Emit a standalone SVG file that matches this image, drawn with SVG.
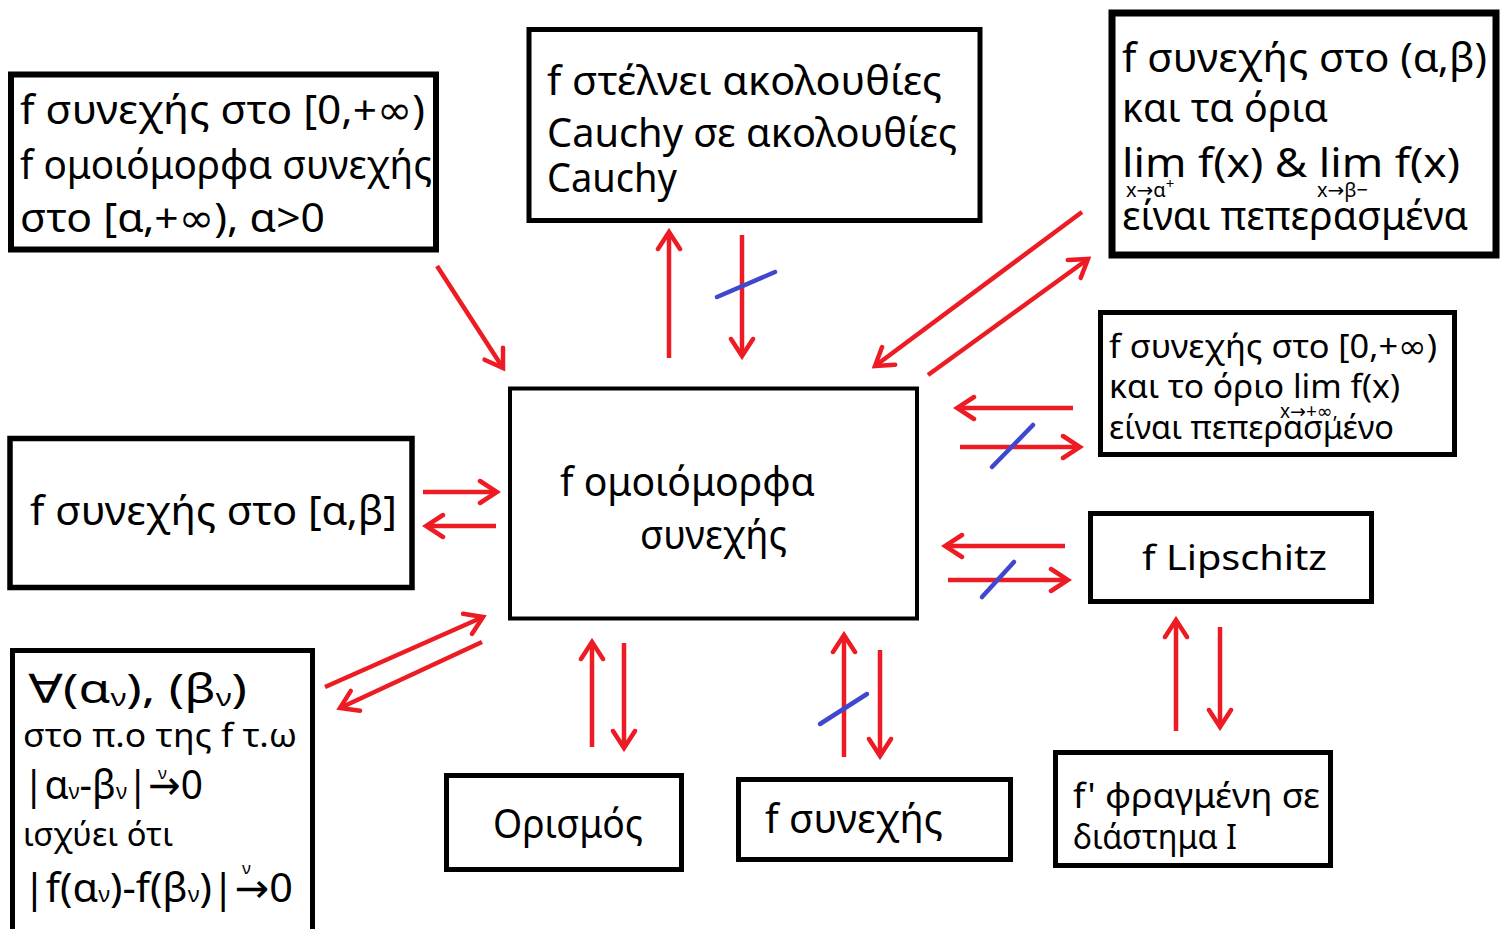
<svg xmlns="http://www.w3.org/2000/svg" width="1503" height="929" viewBox="0 0 1503 929">
<defs>
<style>
.box{fill:#fff;stroke:#000;stroke-width:5}
.t{font-family:"Noto Sans","DejaVu Sans",sans-serif;fill:#000;font-size:40px}
.m{font-size:33px}
.ar{stroke:#ed1c24;stroke-width:4.5;fill:none;marker-end:url(#h)}
.sl{stroke:#3f48cc;stroke-width:4.5;stroke-linecap:round}
</style>
<marker id="h" markerUnits="userSpaceOnUse" viewBox="0 0 24 28" markerWidth="24" markerHeight="28" refX="20" refY="14" orient="auto">
<path d="M3,3 L20,14 L3,25" fill="none" stroke="#ed1c24" stroke-width="4.5" stroke-linecap="round" stroke-linejoin="miter"/>
</marker>
</defs>
<rect width="1503" height="929" fill="#fff"/>

<g id="n1">
<rect class="box" x="11" y="74.5" width="425" height="175" style="stroke-width:6"/>
<text class="t" x="20" y="124" textLength="405" lengthAdjust="spacingAndGlyphs">f συνεχής στο [0,+∞)</text>
<text class="t" x="20" y="179" textLength="412" lengthAdjust="spacingAndGlyphs">f ομοιόμορφα συνεχής</text>
<text class="t" x="20" y="232" textLength="305" lengthAdjust="spacingAndGlyphs">στο [α,+∞), α&gt;0</text>
</g>

<g id="n2">
<rect class="box" x="529" y="29.5" width="451" height="191"/>
<text class="t" x="547" y="95" textLength="395" lengthAdjust="spacingAndGlyphs">f στέλνει ακολουθίες</text>
<text class="t" x="547" y="147" textLength="410" lengthAdjust="spacingAndGlyphs">Cauchy σε ακολουθίες</text>
<text class="t" x="547" y="192" textLength="130" lengthAdjust="spacingAndGlyphs">Cauchy</text>
</g>

<g id="n3">
<rect class="box" x="1112" y="13" width="384" height="242" style="stroke-width:7"/>
<text class="t" x="1122" y="72" textLength="365" lengthAdjust="spacingAndGlyphs">f συνεχής στο (α,β)</text>
<text class="t" x="1122" y="122" textLength="206" lengthAdjust="spacingAndGlyphs">και τα όρια</text>
<text class="t" x="1122" y="177"><tspan textLength="338" lengthAdjust="spacingAndGlyphs">lim f(x) &amp; lim f(x)</tspan><tspan x="1126" y="197" font-size="20">x→α</tspan><tspan dy="-8" font-size="15">+</tspan><tspan x="1317" y="197" font-size="20">x→β−</tspan></text>
<text class="t" x="1122" y="230" textLength="346" lengthAdjust="spacingAndGlyphs">είναι πεπερασμένα</text>
</g>

<g id="n4">
<rect class="box" x="1100.5" y="312.5" width="354" height="142"/>
<text class="t m" x="1109" y="358" textLength="328" lengthAdjust="spacingAndGlyphs">f συνεχής στο [0,+∞)</text>
<text class="t m" x="1109" y="398"><tspan textLength="291" lengthAdjust="spacingAndGlyphs">και το όριο lim f(x)</tspan><tspan x="1280" y="418" font-size="19">x→+∞,</tspan></text>
<text class="t m" x="1109" y="439" textLength="285" lengthAdjust="spacingAndGlyphs">είναι πεπερασμένο</text>
</g>

<g id="n5">
<rect class="box" x="10" y="438.5" width="402" height="149" style="stroke-width:5.5"/>
<text class="t" x="30" y="525" textLength="367" lengthAdjust="spacingAndGlyphs">f συνεχής στο [α,β]</text>
</g>

<g id="n6">
<rect class="box" x="510" y="388.5" width="407" height="230" style="stroke-width:4"/>
<text class="t" x="560" y="496" textLength="255" lengthAdjust="spacingAndGlyphs">f ομοιόμορφα</text>
<text class="t" x="640" y="549" textLength="147" lengthAdjust="spacingAndGlyphs">συνεχής</text>
</g>

<g id="n7">
<rect class="box" x="1090.5" y="513.5" width="281" height="88"/>
<text class="t" x="1142" y="570" style="font-size:34px" textLength="185" lengthAdjust="spacingAndGlyphs">f Lipschitz</text>
</g>

<g id="n8">
<rect class="box" x="12.5" y="650.5" width="300" height="290"/>
<text class="t" x="28" y="703" textLength="219" lengthAdjust="spacingAndGlyphs">∀(α<tspan font-size="24" dy="3">ν</tspan><tspan dy="-3">), (β</tspan><tspan font-size="24" dy="3">ν</tspan><tspan dy="-3">)</tspan></text>
<text class="t" x="23" y="747" style="font-size:32px" textLength="274" lengthAdjust="spacingAndGlyphs">στο π.ο της f τ.ω</text>
<text class="t" x="23" y="799"><tspan textLength="180" lengthAdjust="spacingAndGlyphs">|α<tspan font-size="22">ν</tspan>-β<tspan font-size="22">ν</tspan>|→0</tspan><tspan x="158" y="779" font-size="17">ν</tspan></text>
<text class="t" x="23" y="846" style="font-size:32px" textLength="150" lengthAdjust="spacingAndGlyphs">ισχύει ότι</text>
<text class="t" x="23" y="902"><tspan textLength="270" lengthAdjust="spacingAndGlyphs">|f(α<tspan font-size="22">ν</tspan>)-f(β<tspan font-size="22">ν</tspan>)|→0</tspan><tspan x="242" y="874" font-size="17">ν</tspan></text>
</g>

<g id="n9">
<rect class="box" x="446.5" y="775.5" width="235" height="94"/>
<text class="t" x="493" y="838" textLength="150" lengthAdjust="spacingAndGlyphs">Ορισμός</text>
</g>

<g id="n10">
<rect class="box" x="738.5" y="779.5" width="272" height="80"/>
<text class="t" x="765" y="833" textLength="178" lengthAdjust="spacingAndGlyphs">f συνεχής</text>
</g>

<g id="n11">
<rect class="box" x="1055.5" y="752.5" width="275" height="113"/>
<text class="t" x="1073" y="808" style="font-size:34px" textLength="247" lengthAdjust="spacingAndGlyphs">f' φραγμένη σε</text>
<text class="t" x="1073" y="849" style="font-size:34px" textLength="164" lengthAdjust="spacingAndGlyphs">διάστημα I</text>
</g>

<g id="connectors">
<line class="ar" x1="437" y1="266" x2="503" y2="368"/>
<line class="ar" x1="669" y1="358" x2="669" y2="232"/>
<line class="ar" x1="742" y1="235" x2="742" y2="356"/>
<line class="sl" x1="717" y1="297" x2="775" y2="272"/>
<line class="ar" x1="1082" y1="212" x2="875" y2="366"/>
<line class="ar" x1="928" y1="375" x2="1088" y2="259"/>
<line class="ar" x1="1073" y1="408" x2="957" y2="408"/>
<line class="ar" x1="960" y1="447" x2="1080" y2="447"/>
<line class="sl" x1="992" y1="467" x2="1033" y2="425"/>
<line class="ar" x1="1065" y1="546" x2="945" y2="546"/>
<line class="ar" x1="948" y1="580" x2="1068" y2="580"/>
<line class="sl" x1="982" y1="597" x2="1014" y2="562"/>
<line class="ar" x1="423" y1="492" x2="497" y2="492"/>
<line class="ar" x1="496" y1="526" x2="426" y2="526"/>
<line class="ar" x1="325" y1="687" x2="483" y2="617"/>
<line class="ar" x1="482" y1="642" x2="340" y2="708"/>
<line class="ar" x1="592" y1="747" x2="592" y2="642"/>
<line class="ar" x1="624" y1="643" x2="624" y2="748"/>
<line class="ar" x1="844" y1="757" x2="844" y2="635"/>
<line class="ar" x1="880" y1="650" x2="880" y2="756"/>
<line class="sl" x1="820" y1="724" x2="867" y2="694"/>
<line class="ar" x1="1176" y1="731" x2="1176" y2="620"/>
<line class="ar" x1="1220" y1="627" x2="1220" y2="727"/>
</g>
</svg>
